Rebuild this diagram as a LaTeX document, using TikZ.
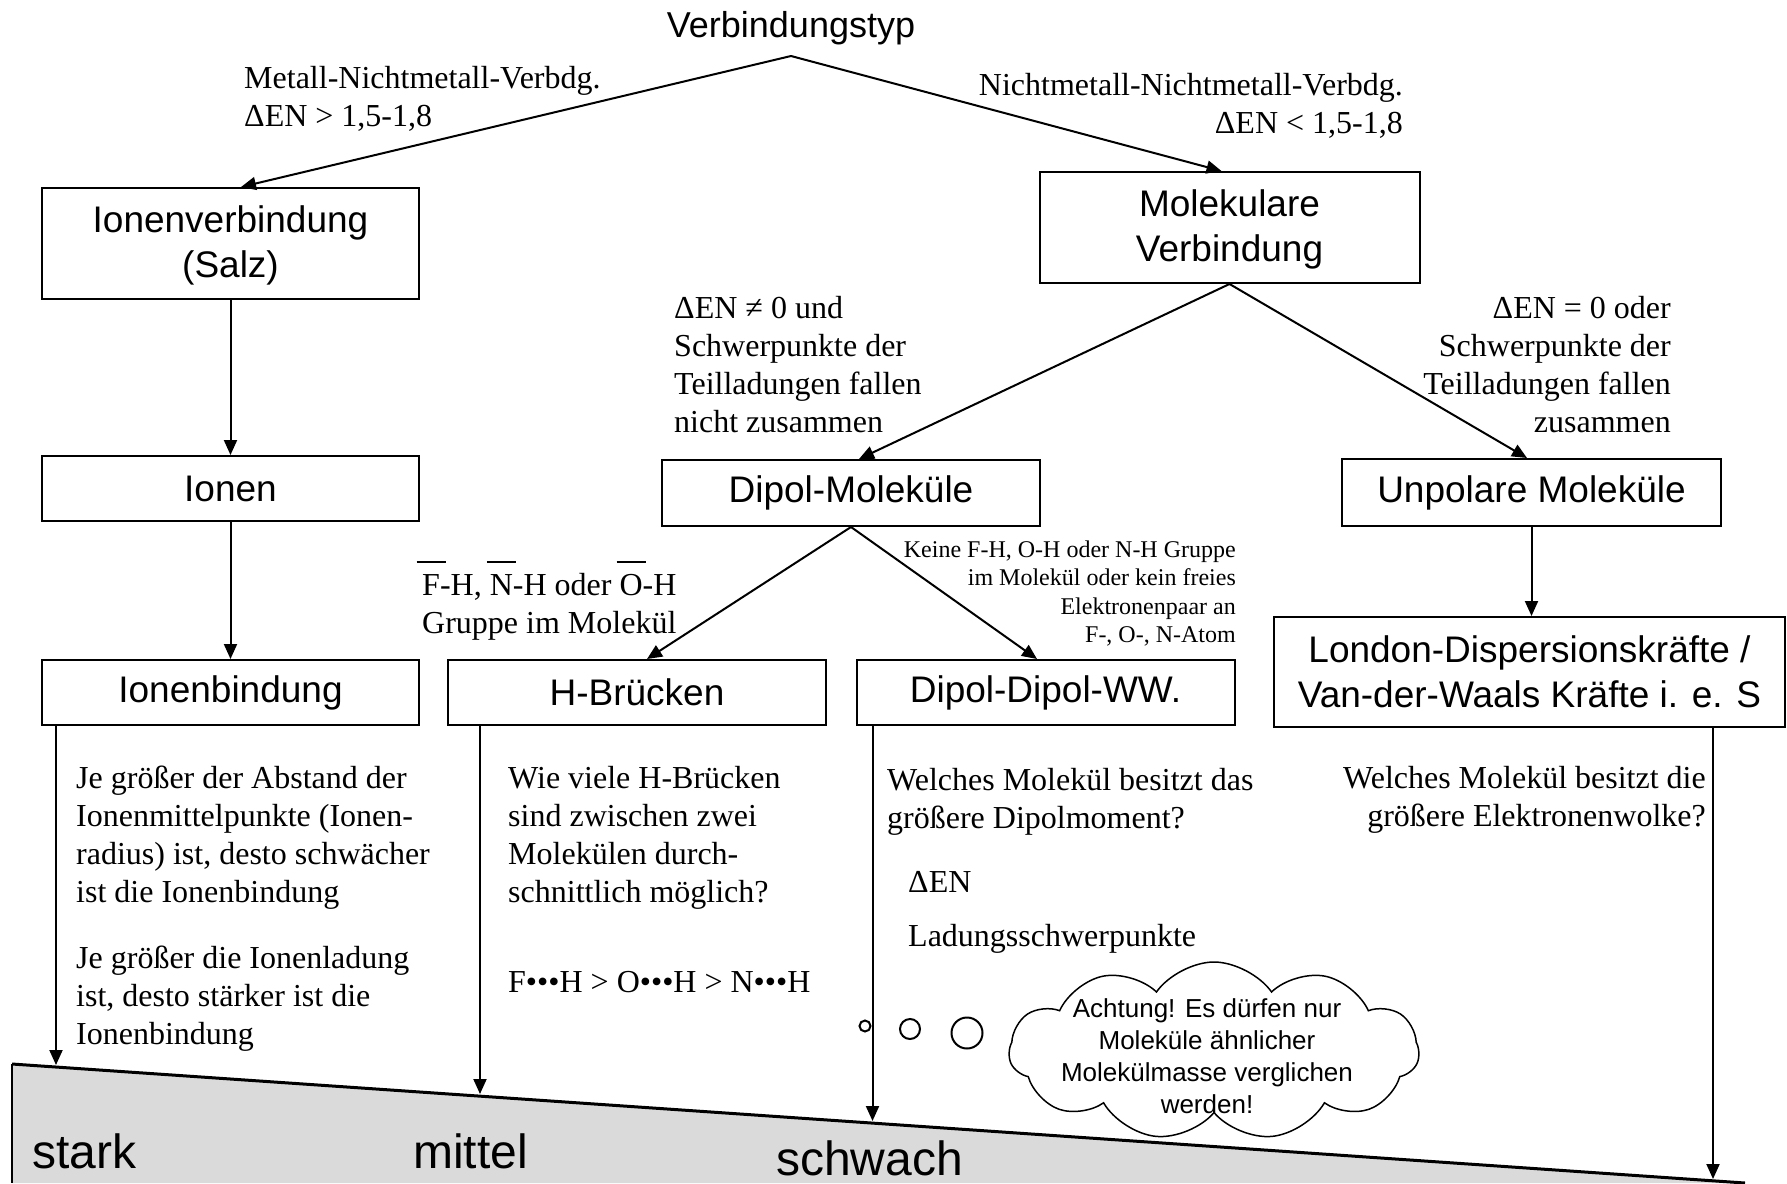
\documentclass[tikz,border=0pt]{standalone}
\usepackage{fontspec}
\setmainfont{Liberation Serif}
\setsansfont{Liberation Sans}
\usetikzlibrary{arrows.meta,shapes.symbols,calc}
\definecolor{bandgray}{RGB}{218,218,218}
\newcommand\Lblock[1]{\vtop{\halign{##\hfil\cr#1\crcr}}}
\newcommand\Rblock[1]{\vtop{\halign{\hfil##\cr#1\crcr}}}
\newcommand\lpb[1]{\ooalign{#1\cr\hidewidth\smash{\raisebox{32pt}{\rule{29pt}{2pt}}}\hidewidth\cr}}
\begin{document}
\begin{tikzpicture}[x=1pt,y=-1pt,
  box/.style={draw,line width=2pt,rectangle,inner sep=0pt,align=center,font=\sffamily\fontsize{37}{45}\selectfont},
  arr/.style={line width=2pt,-{Triangle[length=15pt,width=13pt]}},
  lbl/.style={inner sep=0pt,font=\rmfamily\fontsize{32}{38}\selectfont},
  slbl/.style={inner sep=0pt,font=\rmfamily\fontsize{24}{28.5}\selectfont},
  big/.style={inner sep=0pt,anchor=base west,font=\sffamily\fontsize{48}{56}\selectfont},
  bubble/.style={circle,draw,line width=2pt,inner sep=0pt},
]
\useasboundingbox (0,0) rectangle (1787,1183);

% gray band
\coordinate (sA) at (12,1064);
\coordinate (sB) at (1745,1183);
\coordinate (sC) at (12,1183);
\fill[bandgray] (sA) -- (sB) -- (sC) -- cycle;
\draw[line width=3pt] (sA) -- (sB);
\draw[line width=1.5pt] (sA) -- (sC);

% title
\node[inner sep=0pt,anchor=base,font=\sffamily\fontsize{36}{43}\selectfont] (title) at (791,37) {Verbindungstyp};
\coordinate (apex) at (791,56);

% boxes
\node[box,minimum width=377pt,minimum height=111pt] (ionverb) at (230.5,243.5) {\strut Ionenverbindung\\(Salz)};
\node[box,minimum width=380pt,minimum height=111pt] (molverb) at (1229.5,227.5) {\strut Molekulare\\Verbindung};
\node[box,minimum width=377pt,minimum height=65pt] (ionen) at (230.5,488.5) {Ionen};
\node[box,minimum width=378pt,minimum height=66pt] (dipolmol) at (851,493) {Dipol-Moleküle};
\node[box,minimum width=379pt,minimum height=67pt] (unpolar) at (1531.5,492.5) {Unpolare Moleküle};
\node[box,minimum width=377pt,minimum height=65pt] (ionbind) at (230.5,692.5) {Ionenbindung};
\node[box,minimum width=378pt,minimum height=65pt] (hbr) at (637,692.5) {H-Brücken};
\node[box,minimum width=378pt,minimum height=65pt] (dd) at (1045.5,692.5) {Dipol-Dipol-WW.};
\node[box,minimum width=511pt,minimum height=110pt] (london) at (1529.5,672) {London-Dispersionskräfte /\\Van-der-Waals Kräfte i. e. S};

% labels
\node[lbl,anchor=base west] (l1) at (244,88) {\Lblock{Metall-Nichtmetall-Verbdg.\cr ΔEN > 1,5-1,8}};
\node[lbl,anchor=base east] (l2) at (1403,95) {\Rblock{Nichtmetall-Nichtmetall-Verbdg.\cr ΔEN < 1,5-1,8}};
\node[lbl,anchor=base west] (l3) at (674,318) {\Lblock{ΔEN ≠ 0 und\cr Schwerpunkte der\cr Teilladungen fallen\cr nicht zusammen}};
\node[lbl,anchor=base east] (l4) at (1671,318) {\Rblock{ΔEN = 0 oder\cr Schwerpunkte der\cr Teilladungen fallen\cr zusammen}};
\node[lbl,anchor=base west] (l5) at (422,595) {\Lblock{\lpb{F}-H, \lpb{N}-H oder \lpb{O}-H\cr Gruppe im Molekül}};
\node[slbl,anchor=base east] (l6) at (1236,557) {\Rblock{Keine F-H, O-H oder N-H Gruppe\cr im Molekül oder kein freies\cr Elektronenpaar an\cr F-, O-, N-Atom}};

\node[lbl,anchor=base west] (t1) at (76,788) {\Lblock{Je größer der Abstand der\cr Ionenmittelpunkte (Ionen-\cr radius) ist, desto schwächer\cr ist die Ionenbindung}};
\node[lbl,anchor=base west] (t2) at (76,968) {\Lblock{Je größer die Ionenladung\cr ist, desto stärker ist die\cr Ionenbindung}};
\node[lbl,anchor=base west] (t3) at (508,788) {\Lblock{Wie viele H-Brücken\cr sind zwischen zwei\cr Molekülen durch-\cr schnittlich möglich?}};
\node[lbl,anchor=base west] (t4) at (508,992) {F•••H > O•••H > N•••H};
\node[lbl,anchor=base west] (t5) at (887,790) {\Lblock{Welches Molekül besitzt das\cr größere Dipolmoment?}};
\node[lbl,anchor=base west] (t6) at (908,892) {ΔEN};
\node[lbl,anchor=base west] (t7) at (908,946) {Ladungsschwerpunkte};
\node[lbl,anchor=base east] (t8) at (1706,788) {\Rblock{Welches Molekül besitzt die\cr größere Elektronenwolke?}};

% bottom labels
\node[big] (stark) at (32,1168) {stark};
\node[big] (mittel) at (413,1168) {mittel};
\node[big] (schwach) at (776,1175) {schwach};

% thought bubbles and cloud
\node[bubble,minimum size=11pt] (b1) at (865,1026) {};
\node[bubble,minimum size=20pt] (b2) at (910,1029) {};
\node[bubble,minimum size=31pt] (b3) at (967,1033) {};
\node[cloud,draw,fill=white,line width=1.5pt,cloud puffs=11,cloud puff arc=110,minimum width=410pt,minimum height=178pt,inner sep=0pt] (cloud) at (1214,1051) {};
\node[inner sep=0pt,align=center,font=\sffamily\fontsize{26}{32}\selectfont] (ctext) at (1207,1056) {Achtung! Es dürfen nur\\Moleküle ähnlicher\\Molekülmasse verglichen\\werden!};

% connectors
\draw[arr] (apex) -- ([xshift=10.5pt]ionverb.north);
\draw[arr] (apex) -- ([xshift=-8pt]molverb.north);
\draw[arr] (ionverb.south) -- (ionen.north);
\draw[arr] (ionen.south) -- (ionbind.north);
\draw[arr] (molverb.south) -- ([xshift=8pt]dipolmol.north);
\draw[arr] (molverb.south) -- ([xshift=-4.5pt]unpolar.north);
\draw[arr] (dipolmol.south) -- ([xshift=10pt]hbr.north);
\draw[arr] (dipolmol.south) -- ([xshift=-8.5pt]dd.north);
\draw[arr] (unpolar.south) -- (unpolar.south |- london.north);

\coordinate (p1) at ([xshift=15pt]ionbind.south west);
\coordinate (p2) at ([xshift=33pt]hbr.south west);
\coordinate (p3) at ([xshift=17pt]dd.south west);
\coordinate (p4) at ([xshift=440pt]london.south west);
\coordinate (e1) at (57,1065);
\coordinate (e2) at (481,1094);
\coordinate (e3) at (873,1121);
\coordinate (e4) at (1714,1179);
\draw[arr] (p1) -- (p1 |- e1);
\draw[arr] (p2) -- (p2 |- e2);
\draw[arr] (p3) -- (p3 |- e3);
\draw[arr] (p4) -- (p4 |- e4);
\end{tikzpicture}
\end{document}
